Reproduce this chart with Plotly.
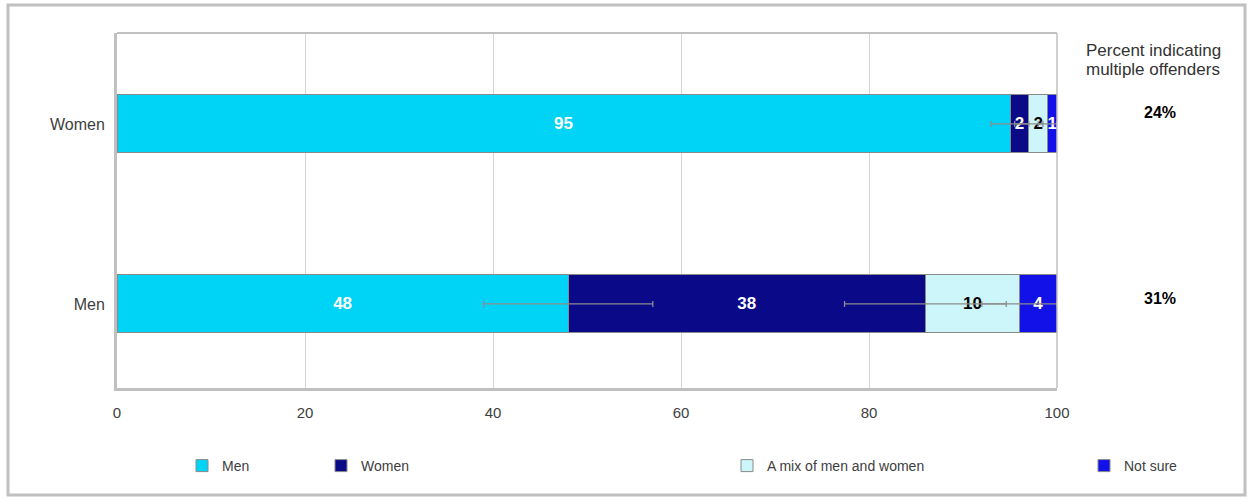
import plotly.graph_objects as go

categories = ["Men", "Women"]
series_names = ["Men", "Women", "A mix of men and women", "Not sure"]
values_men_offender = [48, 95]
values_women_offender = [38, 2]
values_mix = [10, 2]
values_not_sure = [4, 1]
errors_men_offender = [9, 2]
errors_women_offender = [8.6, 1.5]
errors_mix = [4, 1]
errors_not_sure = [0, 0]
multiple_offenders = ["31%", "24%"]
x_ticks = [0, 20, 40, 60, 80, 100]

colors = ["#00D4F6", "#0A0A88", "#CDF6FA", "#1212E8"]
text_colors = ["white", "white", "black", "white"]
series_values = [values_men_offender, values_women_offender, values_mix, values_not_sure]
series_errors = [errors_men_offender, errors_women_offender, errors_mix, errors_not_sure]
legend_ids = ["legend", "legend2", "legend3", "legend4"]
legend_text_x = [222, 361, 767, 1124]
pct_label_y = [298, 112]

L, R, T, B = 117, 1057, 33, 388
PW, PH = R - L, B - T

fig = go.Figure()
for i, name in enumerate(series_names):
    vals = series_values[i]
    fig.add_trace(go.Bar(
        y=categories, x=vals, name=name, orientation="h",
        marker=dict(color=colors[i], line=dict(color="#8a8a8a", width=1)),
        text=[str(v) for v in vals], textposition="inside", insidetextanchor="middle",
        constraintext="none", cliponaxis=False,
        textfont=dict(family="Liberation Sans, Arial", size=17, color=text_colors[i], weight="bold"),
        textangle=0,
        legend=legend_ids[i],
        hoverinfo="skip",
    ))

# error bars drawn on top, at the cumulative end of each segment
cum = [0] * len(categories)
for i in range(len(series_names)):
    cum = [c + v for c, v in zip(cum, series_values[i])]
    errs = series_errors[i]
    if any(e > 0 for e in errs):
        fig.add_trace(go.Scatter(
            y=categories, x=list(cum), mode="markers", marker=dict(size=1, opacity=0),
            error_x=dict(type="data", array=errs, color="#8c8c8c", thickness=1.3, width=3),
            showlegend=False, hoverinfo="skip", cliponaxis=False,
        ))

fig.update_layout(
    width=1250, height=499,
    margin=dict(l=L, r=1250 - R, t=T, b=499 - B, autoexpand=False),
    barmode="stack", bargap=0.678,
    paper_bgcolor="white", plot_bgcolor="white",
    font=dict(family="Liberation Sans, Arial", size=14, color="#404040"),
    xaxis=dict(range=[0, 100], tickvals=x_ticks, showgrid=True, gridcolor="#d4d4d4", gridwidth=1,
               zeroline=False, showline=True, linecolor="#c0c0c0", linewidth=3, mirror=False,
               ticks="", ticklabelstandoff=9, tickfont=dict(size=15, color="#404040")),
    yaxis=dict(range=[-0.467, 1.505], showline=True, linecolor="#c0c0c0", linewidth=3,
               ticks="", tickfont=dict(size=16, color="#404040"), ticklabelstandoff=6),
    showlegend=True,
)
for i, lid in enumerate(legend_ids):
    fig.layout[lid] = dict(x=(legend_text_x[i] - 40 - L) / PW, y=(B - 466) / PH,
                           xanchor="left", yanchor="middle",
                           orientation="h", bgcolor="rgba(0,0,0,0)",
                           font=dict(size=14, color="#404040"), itemwidth=30)

# top border of plot area and line at 100
fig.add_shape(type="line", xref="paper", yref="paper", x0=0, x1=1, y0=1, y1=1,
              line=dict(color="#c0c0c0", width=2))
fig.add_shape(type="line", xref="paper", yref="paper", x0=1, x1=1, y0=0, y1=1,
              line=dict(color="#c0c0c0", width=1.5), layer="above")
# outer border
fig.add_shape(type="rect", xref="paper", yref="paper",
              x0=(8 - L) / PW, x1=(1245 - L) / PW,
              y0=(B - 495) / PH, y1=(B - 5) / PH,
              line=dict(color="#c0c0c0", width=3), layer="below")

fig.add_annotation(xref="paper", yref="paper", x=(1153 - L) / PW, y=(B - 50) / PH,
                   xanchor="center", yanchor="middle",
                   text="Percent indicating", showarrow=False,
                   font=dict(size=17, color="#333333"), align="center")
fig.add_annotation(xref="paper", yref="paper", x=(1153 - L) / PW, y=(B - 69) / PH,
                   xanchor="center", yanchor="middle",
                   text="multiple offenders", showarrow=False,
                   font=dict(size=17, color="#333333"), align="center")
for ypix, pct in zip(pct_label_y, multiple_offenders):
    fig.add_annotation(xref="paper", yref="paper", x=(1160 - L) / PW, y=(B - ypix) / PH,
                       xanchor="center", yanchor="middle",
                       text="<b>" + pct + "</b>", showarrow=False,
                       font=dict(size=16, color="black"))

fig.write_html("out.html", config={"displayModeBar": False},
               post_script="document.body.style.margin='0';")
